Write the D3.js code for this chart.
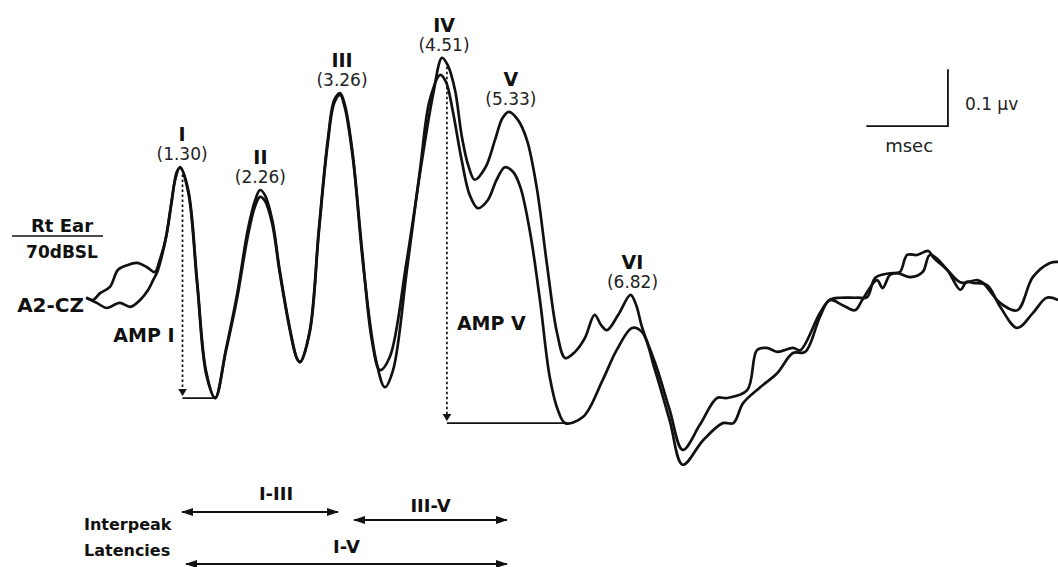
<!DOCTYPE html>
<html>
<head>
<meta charset="utf-8">
<script src="https://cdnjs.cloudflare.com/ajax/libs/d3/7.8.5/d3.min.js"></script>
<style>
  body { margin: 0; background: #fff; }
  svg { display: block; }
</style>
</head>
<body>
<script>
// ABR waveform, two superimposed runs: [latency ms, amplitude uV]
const traceA = [
  [0.15,0.004],[0.23,0.000],[0.32,0.012],[0.44,0.023],[0.54,0.053],[0.65,0.061],[0.77,0.065],
  [0.89,0.058],[0.99,0.049],[1.05,0.070],[1.12,0.105],[1.18,0.158],[1.24,0.211],[1.30,0.233],
  [1.40,0.193],[1.51,0.032],[1.62,-0.126],[1.73,-0.172],[1.86,-0.088],[2.00,0.011],[2.13,0.123],
  [2.22,0.175],[2.28,0.193],[2.34,0.184],[2.43,0.140],[2.52,0.053],[2.65,-0.053],[2.73,-0.102],
  [2.77,-0.109],[2.89,-0.053],[3.00,0.123],[3.11,0.281],[3.19,0.351],[3.26,0.363],[3.32,0.342],
  [3.41,0.263],[3.53,0.088],[3.65,-0.070],[3.75,-0.123],[3.87,-0.100],[4.07,0.062],[4.27,0.250],
  [4.40,0.360],[4.51,0.425],[4.58,0.412],[4.67,0.368],[4.75,0.289],[4.83,0.237],[4.91,0.211],
  [5.04,0.232],[5.16,0.281],[5.25,0.319],[5.33,0.330],[5.44,0.316],[5.55,0.281],[5.67,0.198],
  [5.80,0.058],[5.92,-0.058],[6.02,-0.102],[6.14,-0.091],[6.26,-0.067],[6.38,-0.026],[6.46,-0.044],
  [6.53,-0.053],[6.67,-0.026],[6.82,0.009],[6.89,-0.009],[6.96,-0.047],[7.14,-0.118],[7.30,-0.193],
  [7.46,-0.263],[7.67,-0.219],[7.88,-0.172],[8.00,-0.172],[8.25,-0.158],[8.37,-0.088],[8.49,-0.084],
  [8.62,-0.091],[8.81,-0.084],[8.90,-0.088],[9.14,-0.023],[9.26,0.000],[9.39,0.004],[9.60,0.004],
  [9.72,0.005],[9.82,0.039],[10.00,0.047],[10.12,0.049],[10.21,0.079],[10.33,0.079],[10.47,0.086],
  [10.53,0.075],[10.70,0.053],[10.82,0.035],[10.89,0.030],[11.07,0.035],[11.14,0.030],[11.35,-0.005],
  [11.56,-0.018],[11.75,0.040],[11.96,0.065],[12.06,0.067]
];
const traceB = [
  [0.15,0.004],[0.28,-0.005],[0.40,-0.014],[0.56,-0.005],[0.69,-0.012],[0.81,0.000],[0.91,0.018],
  [0.97,0.035],[1.02,0.049],[1.08,0.079],[1.14,0.119],[1.20,0.175],[1.26,0.225],[1.30,0.232],
  [1.40,0.189],[1.51,0.026],[1.62,-0.130],[1.73,-0.172],[1.86,-0.091],[2.00,0.004],[2.13,0.112],
  [2.22,0.165],[2.28,0.181],[2.34,0.174],[2.43,0.133],[2.52,0.049],[2.65,-0.056],[2.73,-0.102],
  [2.77,-0.109],[2.89,-0.056],[3.00,0.118],[3.11,0.275],[3.19,0.346],[3.26,0.360],[3.32,0.337],
  [3.42,0.246],[3.55,0.053],[3.70,-0.105],[3.81,-0.153],[3.91,-0.123],[4.08,0.053],[4.24,0.228],
  [4.36,0.351],[4.49,0.395],[4.56,0.382],[4.64,0.333],[4.75,0.246],[4.85,0.184],[4.95,0.161],
  [5.07,0.175],[5.18,0.211],[5.28,0.233],[5.38,0.225],[5.47,0.198],[5.59,0.118],[5.71,0.000],
  [5.83,-0.135],[5.93,-0.193],[6.02,-0.216],[6.24,-0.205],[6.48,-0.140],[6.65,-0.088],[6.84,-0.049],
  [6.96,-0.056],[7.12,-0.123],[7.30,-0.211],[7.46,-0.289],[7.71,-0.246],[7.95,-0.216],[8.08,-0.216],
  [8.20,-0.181],[8.41,-0.153],[8.62,-0.128],[8.81,-0.093],[8.96,-0.091],[9.14,-0.030],[9.26,0.000],
  [9.42,-0.009],[9.57,-0.018],[9.66,0.000],[9.84,0.035],[9.91,0.021],[10.00,0.044],[10.09,0.047],
  [10.25,0.040],[10.40,0.049],[10.49,0.079],[10.70,0.053],[10.86,0.018],[10.94,0.032],[11.02,0.030],
  [11.19,0.026],[11.35,-0.012],[11.56,-0.049],[11.75,-0.023],[11.92,0.004],[12.06,0.000]
];

const peakNames = ["I", "II", "III", "IV", "V", "VI"];
const peakLatencies = [1.30, 2.26, 3.26, 4.51, 5.33, 6.82];

// amplitude measures
const ampNames = ["AMP I", "AMP V"];
const ampLatency = [1.33, 4.57];
const ampTop = [0.22, 0.409];
const ampTrough = [-0.172, -0.216];
const ampTroughLatency = [1.73, 6.02];

const interpeakFrom = ["I", "III", "I"];
const interpeakTo = ["III", "V", "V"];

const scaleMs = 1;      // msec bar
const scaleUv = 0.1;    // 0.1 uV bar

const width = 1058, height = 567;
const svg = d3.select("body").append("svg")
  .attr("width", width)
  .attr("height", height);

const x = d3.scaleLinear().domain([0, 12]).range([74, 74 + 12 * 81.6]);
const y = d3.scaleLinear().domain([-0.3, 0.5]).range([471, 15]);

const ink = "#111";
const boldFont = "'DejaVu Sans', sans-serif";

// arrow heads
const defs = svg.append("defs");
defs.append("marker")
  .attr("id", "head")
  .attr("viewBox", "0 0 12 8")
  .attr("markerUnits", "userSpaceOnUse")
  .attr("markerWidth", 12).attr("markerHeight", 8)
  .attr("refX", 11).attr("refY", 4)
  .attr("orient", "auto-start-reverse")
  .append("path").attr("d", "M0,0 L12,4 L0,8 Z").attr("fill", ink);
defs.append("marker")
  .attr("id", "small")
  .attr("viewBox", "0 0 8 10")
  .attr("markerUnits", "userSpaceOnUse")
  .attr("markerWidth", 7).attr("markerHeight", 9)
  .attr("refX", 7).attr("refY", 5)
  .attr("orient", "auto")
  .append("path").attr("d", "M0,0 L8,5 L0,10 Z").attr("fill", ink);

// waveforms
const line = d3.line()
  .x(d => x(d[0]))
  .y(d => y(d[1]))
  .curve(d3.curveCatmullRom.alpha(0.5));

svg.selectAll("path.trace")
  .data([traceA, traceB])
  .join("path")
  .attr("class", "trace")
  .attr("d", line)
  .attr("fill", "none")
  .attr("stroke", ink)
  .attr("stroke-width", 2.7)
  .attr("stroke-linejoin", "round");

// amplitude markers
ampNames.forEach((name, i) => {
  svg.append("line")
    .attr("x1", x(ampLatency[i])).attr("x2", x(ampLatency[i]))
    .attr("y1", y(ampTop[i])).attr("y2", y(ampTrough[i]) - 3)
    .attr("stroke", ink).attr("stroke-width", 1.7)
    .attr("stroke-dasharray", "2.5,2.5")
    .attr("marker-end", "url(#small)");
  svg.append("line")
    .attr("x1", x(ampLatency[i])).attr("x2", x(ampTroughLatency[i]))
    .attr("y1", y(ampTrough[i])).attr("y2", y(ampTrough[i]))
    .attr("stroke", ink).attr("stroke-width", 1.7);
});
svg.append("text")
  .attr("x", x(ampLatency[0]) - 8).attr("y", 342)
  .attr("text-anchor", "end")
  .style("font-family", boldFont).style("font-weight", "bold").style("font-size", "19px")
  .attr("fill", ink)
  .text(ampNames[0]);
svg.append("text")
  .attr("x", x(ampLatency[1]) + 10).attr("y", 330)
  .attr("text-anchor", "start")
  .style("font-family", boldFont).style("font-weight", "bold").style("font-size", "19px")
  .attr("fill", ink)
  .text(ampNames[1]);

// peak labels
peakNames.forEach((name, i) => {
  const lat = peakLatencies[i];
  const top = d3.max(traceA.filter(d => Math.abs(d[0] - lat) < 0.08), d => d[1]);
  const base = y(top) - 7;
  svg.append("text")
    .attr("x", x(lat) + 2).attr("y", base)
    .attr("text-anchor", "middle")
    .style("font-family", boldFont).style("font-size", "17px")
    .attr("fill", "#222")
    .text("(" + lat.toFixed(2) + ")");
  svg.append("text")
    .attr("x", x(lat) + 2).attr("y", base - 19)
    .attr("text-anchor", "middle")
    .style("font-family", boldFont).style("font-weight", "bold").style("font-size", "19px")
    .attr("fill", ink)
    .text(name);
});

// montage labels on the left
svg.append("text")
  .attr("x", 62).attr("y", 232).attr("text-anchor", "middle")
  .style("font-family", boldFont).style("font-weight", "bold").style("font-size", "18px")
  .attr("fill", ink).text("Rt Ear");
svg.append("line")
  .attr("x1", 12).attr("x2", 103).attr("y1", 236).attr("y2", 236)
  .attr("stroke", ink).attr("stroke-width", 1.6);
svg.append("text")
  .attr("x", 62).attr("y", 258).attr("text-anchor", "middle")
  .style("font-family", boldFont).style("font-weight", "bold").style("font-size", "17px")
  .attr("fill", ink).text("70dBSL");
svg.append("text")
  .attr("x", 84).attr("y", 312).attr("text-anchor", "end")
  .style("font-family", boldFont).style("font-weight", "bold").style("font-size", "20px")
  .attr("fill", ink).text("A2-CZ");

// scale bar (1 msec x 0.1 uV)
const cornerT = 10.71, cornerV = 0.305;
svg.append("path")
  .attr("d", `M${x(cornerT - scaleMs)},${y(cornerV)} H${x(cornerT)} V${y(cornerV + scaleUv)}`)
  .attr("fill", "none").attr("stroke", ink).attr("stroke-width", 1.8);
svg.append("text")
  .attr("x", x(cornerT) + 17).attr("y", 110)
  .style("font-family", boldFont).style("font-size", "17px")
  .attr("fill", "#222").text("0.1 \u00b5v");
svg.append("text")
  .attr("x", x(cornerT - scaleMs / 2) + 2).attr("y", 152).attr("text-anchor", "middle")
  .style("font-family", boldFont).style("font-size", "18px")
  .attr("fill", "#222").text("msec");

// interpeak latencies
const lat = name => peakLatencies[peakNames.indexOf(name)];
const rowY = [512, 520, 564];
const labelY = [500, 512, 553];
const startGap = [0, 12, 4];
interpeakFrom.forEach((from, i) => {
  const x1 = x(lat(from)) + startGap[i];
  const x2 = x(lat(interpeakTo[i]));
  svg.append("line")
    .attr("x1", x1 + 2).attr("x2", x2 - 2)
    .attr("y1", rowY[i]).attr("y2", rowY[i])
    .attr("stroke", ink).attr("stroke-width", 2)
    .attr("marker-start", "url(#head)")
    .attr("marker-end", "url(#head)");
  svg.append("text")
    .attr("x", (x1 + x2) / 2 + (i === 0 ? 16 : 0)).attr("y", labelY[i])
    .attr("text-anchor", "middle")
    .style("font-family", boldFont).style("font-weight", "bold").style("font-size", "18px")
    .attr("fill", ink)
    .text(from + "-" + interpeakTo[i]);
});
svg.append("text")
  .attr("x", 84).attr("y", 530)
  .style("font-family", boldFont).style("font-weight", "bold").style("font-size", "16px")
  .attr("fill", ink).text("Interpeak");
svg.append("text")
  .attr("x", 84).attr("y", 556)
  .style("font-family", boldFont).style("font-weight", "bold").style("font-size", "16px")
  .attr("fill", ink).text("Latencies");
</script>
</body>
</html>
